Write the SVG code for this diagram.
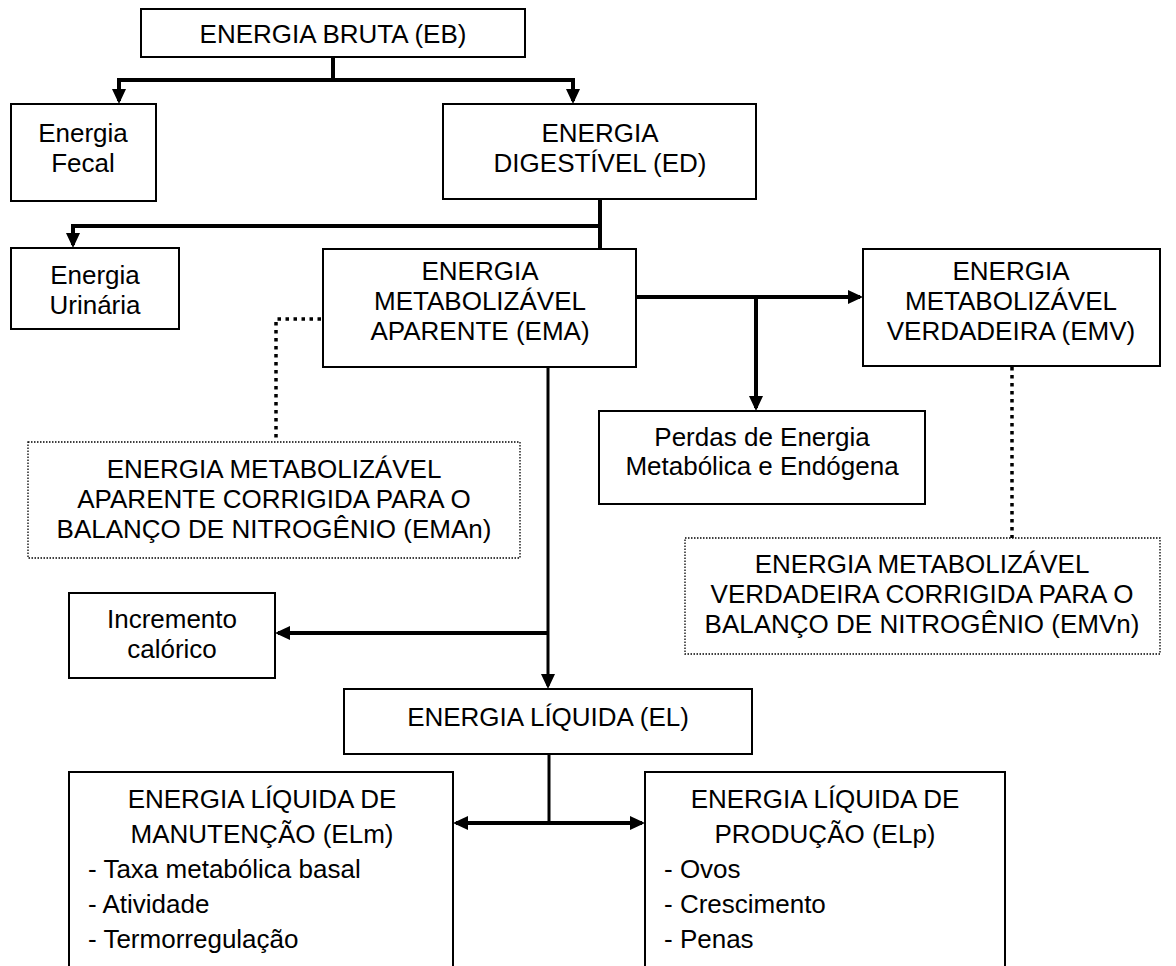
<svg xmlns="http://www.w3.org/2000/svg" width="1176" height="966" viewBox="0 0 1176 966">
<style>
.box{fill:#fff;stroke:#000;stroke-width:2}
.dbox{fill:#fff;stroke:#000;stroke-width:1.3;stroke-dasharray:1.5 1.5}
.t{font-family:"Liberation Sans",Arial,sans-serif;font-size:26px;fill:#000;text-anchor:middle}
.l{font-family:"Liberation Sans",Arial,sans-serif;font-size:26px;fill:#000;text-anchor:start}
.c{fill:none;stroke:#000;stroke-width:4;stroke-linejoin:miter}
.v{fill:none;stroke:#000;stroke-width:3}
.d{fill:none;stroke:#000;stroke-width:3.5;stroke-dasharray:3.5 4.5}
</style>
<defs>
<marker id="ah" markerUnits="userSpaceOnUse" markerWidth="16" markerHeight="14" refX="12" refY="7" orient="auto">
<path d="M0,0 L15,7 L0,14 z" fill="#000"/>
</marker>
</defs>
<rect width="1176" height="966" fill="#fff"/>
<g id="connectors">
<path class="c" d="M333,57 V80 H119 V101" marker-end="url(#ah)"/>
<path class="c" d="M333,80 H573 V101" marker-end="url(#ah)"/>
<path class="c" d="M600,199 V248"/>
<path class="c" d="M600,226 H73 V245" marker-end="url(#ah)"/>
<path class="c" d="M636,297 H860" marker-end="url(#ah)"/>
<path class="c" d="M756,297 V408" marker-end="url(#ah)"/>
<path class="d" d="M321,319 H276 V442"/>
<path class="d" d="M1012,367 V538"/>
<path class="v" d="M548,367 V686" marker-end="url(#ah)"/>
<path class="c" d="M548,633 H278" marker-end="url(#ah)"/>
<path class="v" d="M549,754 V823"/>
<path class="c" d="M549,823 H456" marker-end="url(#ah)"/>
<path class="c" d="M549,823 H642" marker-end="url(#ah)"/>
</g>
<g id="eb"><rect class="box" x="141" y="9" width="384" height="48"/><text class="t" x="333" y="43">ENERGIA BRUTA (EB)</text></g>
<g id="fecal"><rect class="box" x="11" y="104" width="145" height="97"/><text class="t" x="83" y="142">Energia</text><text class="t" x="83" y="172">Fecal</text></g>
<g id="ed"><rect class="box" x="443" y="104" width="313" height="95"/><text class="t" x="600" y="142">ENERGIA</text><text class="t" x="600" y="172">DIGESTÍVEL (ED)</text></g>
<g id="urinaria"><rect class="box" x="11" y="248" width="168" height="81"/><text class="t" x="95" y="284">Energia</text><text class="t" x="95" y="314">Urinária</text></g>
<g id="ema"><rect class="box" x="323" y="249" width="313" height="118"/><text class="t" x="480" y="280">ENERGIA</text><text class="t" x="480" y="310">METABOLIZÁVEL</text><text class="t" x="480" y="340">APARENTE (EMA)</text></g>
<g id="emv"><rect class="box" x="863" y="249" width="297" height="117"/><text class="t" x="1011" y="280">ENERGIA</text><text class="t" x="1011" y="310">METABOLIZÁVEL</text><text class="t" x="1011" y="340">VERDADEIRA (EMV)</text></g>
<g id="perdas"><rect class="box" x="599" y="411" width="326" height="93"/><text class="t" x="762" y="446">Perdas de Energia</text><text class="t" x="762" y="475">Metabólica e Endógena</text></g>
<g id="eman"><rect class="dbox" x="28" y="442" width="492" height="116"/><text class="t" x="274" y="478">ENERGIA METABOLIZÁVEL</text><text class="t" x="274" y="508">APARENTE CORRIGIDA PARA O</text><text class="t" x="274" y="538">BALANÇO DE NITROGÊNIO (EMAn)</text></g>
<g id="emvn"><rect class="dbox" x="685" y="538" width="475" height="116"/><text class="t" x="922" y="573">ENERGIA METABOLIZÁVEL</text><text class="t" x="922" y="603">VERDADEIRA CORRIGIDA PARA O</text><text class="t" x="922" y="633">BALANÇO DE NITROGÊNIO (EMVn)</text></g>
<g id="incremento"><rect class="box" x="69" y="593" width="206" height="85"/><text class="t" x="172" y="628">Incremento</text><text class="t" x="172" y="658">calórico</text></g>
<g id="el"><rect class="box" x="344" y="689" width="408" height="65"/><text class="t" x="548" y="726">ENERGIA LÍQUIDA (EL)</text></g>
<g id="elm"><rect class="box" x="69" y="772" width="384" height="210"/><text class="t" x="262" y="808">ENERGIA LÍQUIDA DE</text><text class="t" x="262" y="843">MANUTENÇÃO (ELm)</text><text class="l" x="88" y="878">- Taxa metabólica basal</text><text class="l" x="88" y="913">- Atividade</text><text class="l" x="88" y="948">- Termorregulação</text></g>
<g id="elp"><rect class="box" x="645" y="772" width="360" height="210"/><text class="t" x="825" y="808">ENERGIA LÍQUIDA DE</text><text class="t" x="825" y="843">PRODUÇÃO (ELp)</text><text class="l" x="664" y="878">- Ovos</text><text class="l" x="664" y="913">- Crescimento</text><text class="l" x="664" y="948">- Penas</text></g>
</svg>
